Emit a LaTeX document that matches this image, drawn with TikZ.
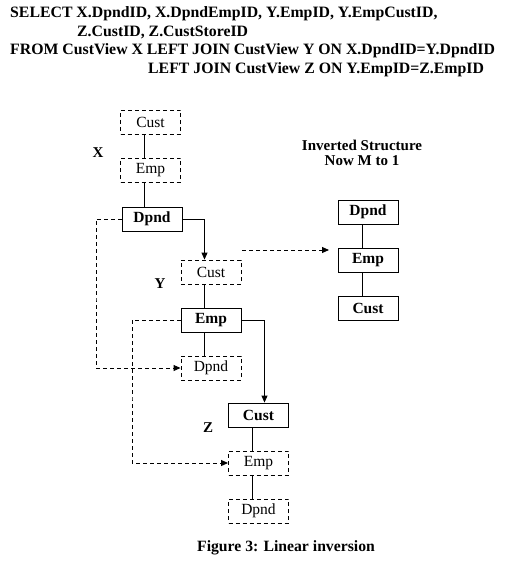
\documentclass[tikz,border=0pt]{standalone}
\usepackage{fontspec}
\setmainfont{Liberation Serif}
\usetikzlibrary{arrows.meta,calc}
\begin{document}
\begin{tikzpicture}[x=1pt,y=-1pt,
  box/.style={draw,line width=0.9pt,minimum width=60pt,minimum height=24pt,inner sep=0pt,font=\fontsize{15.5}{15.5}\selectfont},
  sbox/.style={box,font=\fontsize{15.5}{15.5}\selectfont\bfseries},
  dbox/.style={box,dashed,dash pattern=on 4pt off 3pt},
  conn/.style={line width=0.9pt},
  dconn/.style={conn,dash pattern=on 4pt off 3pt},
  tip/.style={-{Triangle[length=7pt,width=6pt]}},
  lbl/.style={font=\fontsize{15}{15}\selectfont\bfseries},
  hdr/.style={anchor=base west,inner sep=0pt,font=\fontsize{15.8}{15.8}\selectfont\bfseries}
]
\useasboundingbox (0,0) rectangle (516,575);
% header
\node[hdr] (h1) at (10,18) {SELECT X.DpndID, X.DpndEmpID, Y.EmpID, Y.EmpCustID,};
\node[hdr] (h2) at (77,37) {Z.CustID, Z.CustStoreID};
\node[hdr] (h3) at (10,55) {FROM CustView X LEFT JOIN CustView Y ON X.DpndID=Y.DpndID};
\node[hdr] (h4) at (148,74) {LEFT JOIN CustView Z ON Y.EmpID=Z.EmpID};
% X
\node[dbox] (xc) at (150.5,122) {Cust};
\node[dbox] (xe) at (150.5,170) {Emp};
\node[sbox] (xd) at (152,219) {Dpnd};
\node[lbl] (lx) at (98,153) {X};
% Y
\node[dbox] (yc) at (211,272) {Cust};
\node[sbox] (ye) at (211,320) {Emp};
\node[dbox] (yd) at (211,368) {Dpnd};
\node[lbl] (ly) at (160,284) {Y};
% Z
\node[sbox] (zc) at (258.5,415) {Cust};
\node[dbox] (ze) at (258.5,463) {Emp};
\node[dbox] (zd) at (258.5,511) {Dpnd};
\node[lbl] (lz) at (208,428) {Z};
% inverted
\node[lbl,align=center] (inv) at (362,153) {Inverted Structure\\Now M to 1};
\node[sbox] (id) at (368,212) {Dpnd};
\node[sbox] (ie) at (368,260) {Emp};
\node[sbox] (ic) at (368,308) {Cust};
% caption
\node[lbl,font=\fontsize{15.7}{15.7}\selectfont\bfseries] (cap) at (286,548) {Figure 3: Linear inversion};
% solid connectors
\draw[conn] ([xshift=-6pt]xc.south) -- ([xshift=-6pt]xe.north);
\draw[conn] ([xshift=-6pt]xe.south) -- ([xshift=-7.5pt]xd.north);
\draw[conn,tip] (xd.east) -| ([xshift=-6.5pt]yc.north);
\draw[conn] ([xshift=-6.5pt]yc.south) -- ([xshift=-6.5pt]ye.north);
\draw[conn] ([xshift=-6.5pt]ye.south) -- ([xshift=-6.5pt]yd.north);
\draw[conn,tip] (ye.east) -| ([xshift=6pt]zc.north);
\draw[conn] ([xshift=-6pt]zc.south) -- ([xshift=-6pt]ze.north);
\draw[conn] ([xshift=-6pt]ze.south) -- ([xshift=-6pt]zd.north);
\draw[conn] ([xshift=-5.5pt]id.south) -- ([xshift=-5.5pt]ie.north);
\draw[conn] ([xshift=-5.5pt]ie.south) -- ([xshift=-5.5pt]ic.north);
% dashed connectors
\coordinate (l1) at (96,300);
\coordinate (l2) at (132,400);
\draw[dconn,tip] (xd.west) -| (l1) |- (yd.west);
\draw[dconn,tip] (ye.west) -| (l2) |- (ze.west);
\coordinate (fa) at (242,250);
\coordinate (fb) at (329,250);
\draw[dconn,tip] (fa) -- (fb);
\end{tikzpicture}
\end{document}
